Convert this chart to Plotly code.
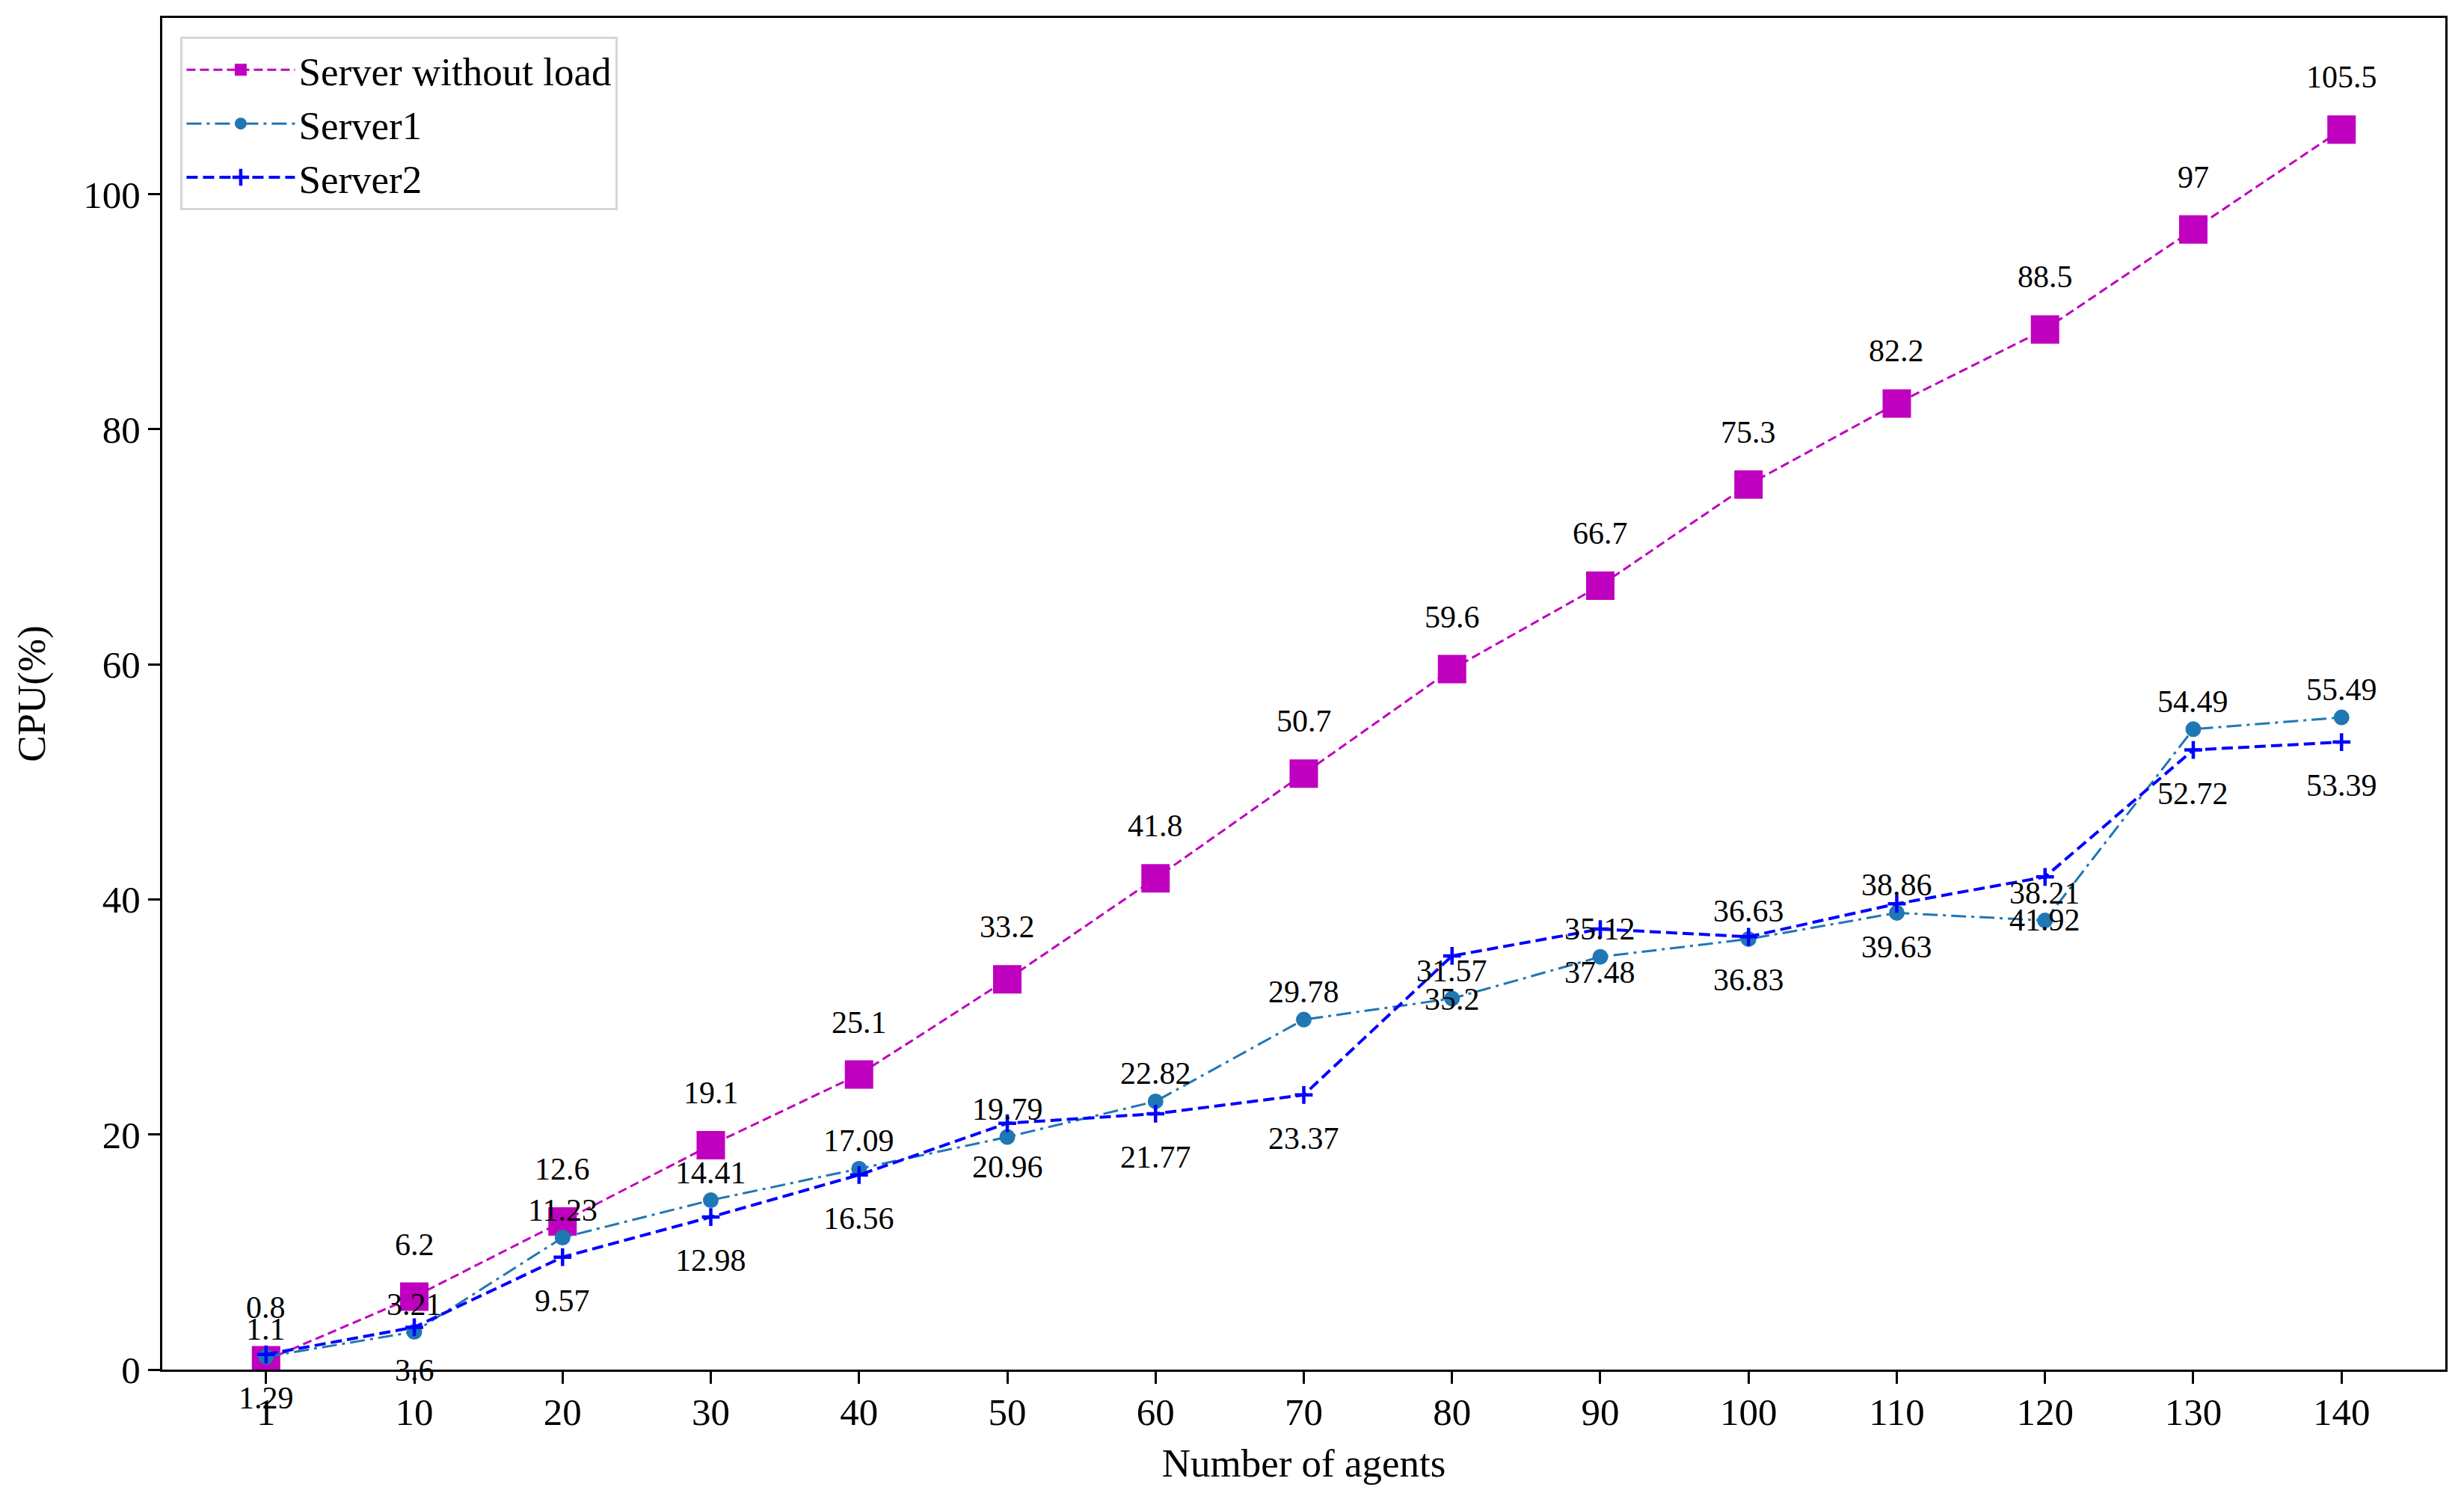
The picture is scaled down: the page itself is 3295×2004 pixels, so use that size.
import plotly.graph_objects as go

agents = ["1", "10", "20", "30", "40", "50", "60", "70", "80", "90", "100", "110", "120", "130", "140"]
no_load = [0.8, 6.2, 12.6, 19.1, 25.1, 33.2, 41.8, 50.7, 59.6, 66.7, 75.3, 82.2, 88.5, 97, 105.5]
server1 = [1.1, 3.21, 11.23, 14.41, 17.09, 19.79, 22.82, 29.78, 31.57, 35.12, 36.63, 38.86, 38.21, 54.49, 55.49]
server2 = [1.29, 3.6, 9.57, 12.98, 16.56, 20.96, 21.77, 23.37, 35.2, 37.48, 36.83, 39.63, 41.92, 52.72, 53.39]
y_ticks = [0, 20, 40, 60, 80, 100]

FONT = "Liberation Serif, Times New Roman, serif"
W, H = 3295, 2004
ML, MR, MT, MB = 209, 33, 16, 181

fig = go.Figure()

fig.add_trace(go.Scatter(
    x=agents, y=no_load, name="Server without load", mode="lines+markers",
    line=dict(color="#bf00bf", width=3, dash="12px,6px"),
    marker=dict(symbol="square", size=38, color="#bf00bf", line=dict(width=0)),
    legendgroup="a"))
fig.add_trace(go.Scatter(
    x=agents, y=server1, name="Server1", mode="lines+markers",
    line=dict(color="#1f77b4", width=3, dash="20px,7px,4px,7px"),
    marker=dict(symbol="circle", size=21, color="#1f77b4", line=dict(width=0)),
    legendgroup="b"))
fig.add_trace(go.Scatter(
    x=agents, y=server2, name="Server2", mode="lines+markers",
    line=dict(color="#0000ff", width=4, dash="15px,7px"),
    marker=dict(symbol="cross-thin", size=17, color="#0000ff",
                line=dict(width=4.5, color="#0000ff")),
    legendgroup="c"))

annotations = []
for series, shift in ((no_load, 70), (server1, 37), (server2, -58)):
    for i, v in enumerate(series):
        annotations.append(dict(
            x=i, y=v, xref="x", yref="y", text=f"{v:g}", showarrow=False,
            xanchor="center", yanchor="middle", yshift=shift,
            font=dict(family=FONT, size=42, color="black")))

fig.update_layout(
    width=W, height=H,
    margin=dict(l=ML, r=MR, t=MT, b=MB, autoexpand=False),
    paper_bgcolor="white", plot_bgcolor="white",
    font=dict(family=FONT, size=51, color="black"),
    showlegend=True,
    legend=dict(
        x=0.008, y=0.986, xanchor="left", yanchor="top",
        bgcolor="white", bordercolor="#d6d6d6", borderwidth=3,
        font=dict(family=FONT, size=53, color="black"),
        itemwidth=145, tracegroupgap=14, traceorder="normal",
        itemsizing="trace"),
    annotations=annotations,
)

fig.update_xaxes(
    type="category", categoryorder="array", categoryarray=agents,
    range=[-0.7, 14.7], showgrid=False, zeroline=False,
    showline=True, linecolor="black", linewidth=3.3, mirror=True,
    ticks="outside", ticklen=16, tickwidth=3.3, tickcolor="black",
    ticklabelstandoff=-6,
    tickfont=dict(family=FONT, size=51, color="black"),
    title=dict(text="Number of agents", font=dict(family=FONT, size=53, color="black"), standoff=22),
    automargin=False)
fig.update_yaxes(
    range=[0, 115], tickvals=y_ticks, showgrid=False, zeroline=False,
    showline=True, linecolor="black", linewidth=3.3, mirror=True,
    ticks="outside", ticklen=16, tickwidth=3.3, tickcolor="black",
    tickfont=dict(family=FONT, size=51, color="black"),
    title=dict(text="CPU(%)", font=dict(family=FONT, size=53, color="black"), standoff=34),
    automargin=False)

fig.write_html("out.html")
